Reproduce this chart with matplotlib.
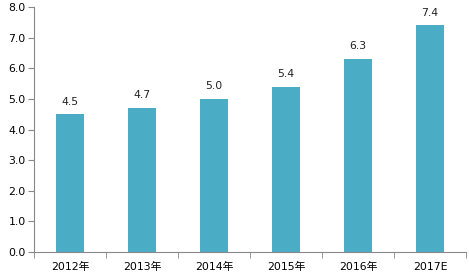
import numpy as np
import matplotlib
matplotlib.use("Agg")
import matplotlib.pyplot as plt

plt.rcParams['font.family'] = ['DejaVu Sans', 'Noto Sans CJK SC']

years = ["2012年", "2013年", "2014年", "2015年", "2016年", "2017E"]
values = [4.5, 4.7, 5.0, 5.4, 6.3, 7.4]

fig = plt.figure(figsize=(4.69, 2.80), dpi=100)
ax = fig.add_axes([0.0725, 0.1, 0.921, 0.875])

x = np.arange(len(years))
ax.bar(x, values, width=0.39, color="#4BACC6")
for xi, v in zip(x, values):
    ax.text(xi, v + 0.25, "%.1f" % v, ha="center", va="bottom", fontsize=7.8, color="#222222")

ax.set_xlim(-0.5, len(years) - 0.5)
ax.set_ylim(0, 8)
ax.set_yticks(np.arange(0, 8.1, 1.0))
ax.set_yticklabels(["%.1f" % t for t in np.arange(0, 8.1, 1.0)], fontsize=7.8)
ax.set_xticks(x)
ax.set_xticklabels(years, fontsize=7.8)
ax.set_xticks(np.arange(-0.5, len(years)), minor=True)
ax.tick_params(axis="x", which="major", length=0, pad=7)
ax.tick_params(axis="x", which="minor", length=4, color="#888888", direction="out")
ax.tick_params(axis="y", length=4, color="#888888", direction="out", pad=2)

for s in ["top", "right"]:
    ax.spines[s].set_visible(False)
for s in ["left", "bottom"]:
    ax.spines[s].set_color("#888888")
    ax.spines[s].set_linewidth(0.8)

fig.savefig("out.png", dpi=100)
